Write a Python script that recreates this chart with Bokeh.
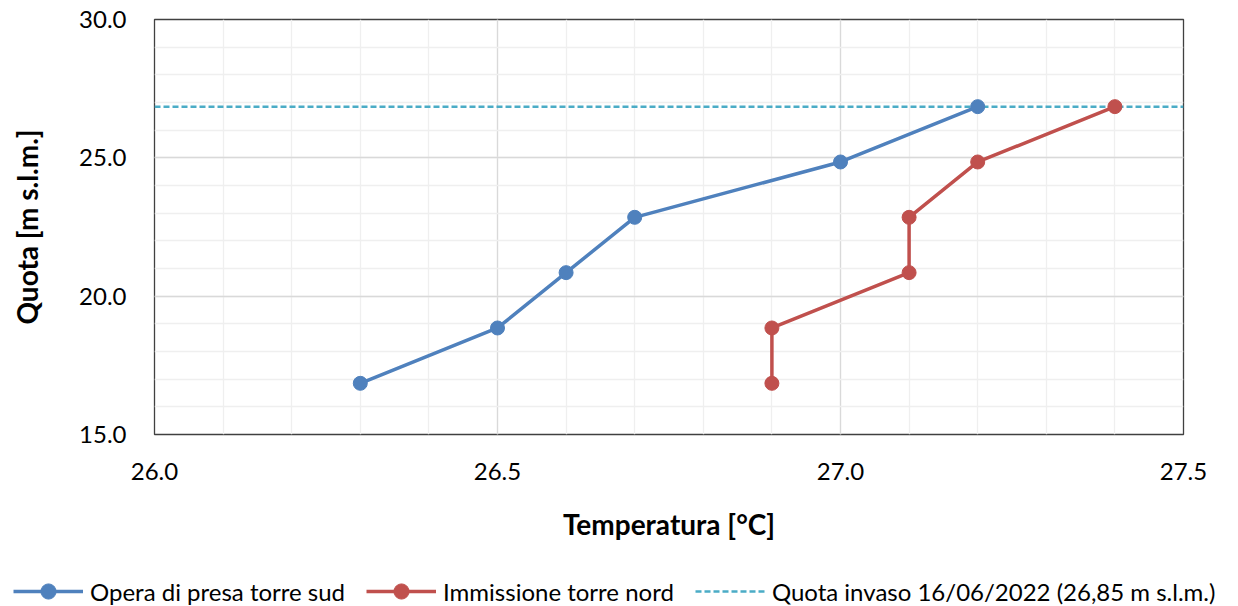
from bokeh.plotting import figure
from bokeh.models import (Range1d, SingleIntervalTicker, PrintfTickFormatter,
                          Legend, LegendItem)
from bokeh.embed import file_html
from bokeh.resources import INLINE

# ---- data ----
quota = [16.85, 18.85, 20.85, 22.85, 24.85, 26.85]
temp_sud = [26.3, 26.5, 26.6, 26.7, 27.0, 27.2]
temp_nord = [26.9, 26.9, 27.1, 27.1, 27.2, 27.4]
quota_invaso = 26.85
x_limits = [26.0, 27.5]
y_limits = [15.0, 30.0]

name_sud = "Opera di presa torre sud"
name_nord = "Immissione torre nord"
name_invaso = "Quota invaso 16/06/2022 (26,85 m s.l.m.)"

BLUE = "#4f81bd"
RED = "#c0504d"
CYAN = "#4bacc6"
FONT = "Lato"

W = 1238
H_PLOT, H_LEG = 550, 56

p = figure(width=W, height=H_PLOT, output_backend="svg", toolbar_location=None,
           x_range=Range1d(*x_limits), y_range=Range1d(*y_limits),
           min_border_left=154, min_border_right=55,
           min_border_top=19, min_border_bottom=116)
p.background_fill_color = "white"
p.border_fill_color = "white"
p.outline_line_color = "#404040"
p.outline_line_width = 1.3

p.xaxis.ticker = SingleIntervalTicker(interval=0.5, num_minor_ticks=5)
p.yaxis.ticker = SingleIntervalTicker(interval=5, num_minor_ticks=5)
p.xgrid.ticker = p.xaxis.ticker
p.ygrid.ticker = p.yaxis.ticker

for ax in (p.xaxis, p.yaxis):
    ax.formatter = PrintfTickFormatter(format="%.1f")
    ax.axis_line_color = None
    ax.major_tick_line_color = None
    ax.minor_tick_line_color = None
    ax.major_label_text_font = FONT
    ax.major_label_text_font_size = "24px"
    ax.major_label_text_color = "#000000"
    ax.axis_label_text_font = FONT
    ax.axis_label_text_font_size = "28px"
    ax.axis_label_text_font_style = "bold"
    ax.axis_label_text_color = "#000000"

p.xaxis.axis_label = "Temperatura [°C]"
p.yaxis.axis_label = "Quota [m s.l.m.]"
p.xaxis.major_label_standoff = 22
p.yaxis.major_label_standoff = 22
p.xaxis.axis_label_standoff = 24
p.yaxis.axis_label_standoff = 32

for g in (p.xgrid, p.ygrid):
    g.grid_line_color = "#d9d9d9"
    g.grid_line_width = 1.3
    g.minor_grid_line_color = "#efefef"
    g.minor_grid_line_width = 1.3

# reservoir level line
p.line(x_limits, [quota_invaso, quota_invaso], line_color=CYAN,
       line_width=2.5, line_dash="6 3")
p.line(temp_sud, quota, line_color=BLUE, line_width=3.5)
p.scatter(temp_sud, quota, size=14, fill_color=BLUE, line_color=BLUE)
p.line(temp_nord, quota, line_color=RED, line_width=3.5)
p.scatter(temp_nord, quota, size=14, fill_color=RED, line_color=RED)

# ---- legend strip: a second root whose frame spans the full width ----
q = figure(width=W, height=H_LEG, output_backend="svg", toolbar_location=None,
           x_axis_type=None, y_axis_type=None,
           x_range=Range1d(0, 1), y_range=Range1d(0, 1),
           min_border=0, min_border_left=0, min_border_right=0,
           min_border_top=0, min_border_bottom=0, outline_line_color=None)
q.background_fill_color = "white"
q.border_fill_color = "white"
# same series, outside this strip's visible range: only their legend samples show
k_sud_l = q.line(temp_sud, quota, line_color=BLUE, line_width=3.5)
k_sud_s = q.scatter(temp_sud, quota, fill_color=BLUE, line_color=BLUE)
k_nord_l = q.line(temp_nord, quota, line_color=RED, line_width=3.5)
k_nord_s = q.scatter(temp_nord, quota, fill_color=RED, line_color=RED)
k_inv = q.line(x_limits, [quota_invaso, quota_invaso], line_color=CYAN,
               line_width=2.5, line_dash="6 3")

legend = Legend(items=[
    LegendItem(label=name_sud, renderers=[k_sud_l, k_sud_s]),
    LegendItem(label=name_nord, renderers=[k_nord_l, k_nord_s]),
    LegendItem(label=name_invaso, renderers=[k_inv]),
], orientation="horizontal", location=(13, -4),
    glyph_width=70, glyph_height=38, label_standoff=7, spacing=21,
    padding=0, margin=0, border_line_color=None, background_fill_alpha=0,
    label_text_font=FONT, label_text_font_size="24px", label_text_color="#000000")
q.add_layout(legend, "center")

open("out.html", "w").write(file_html([p, q], INLINE))
